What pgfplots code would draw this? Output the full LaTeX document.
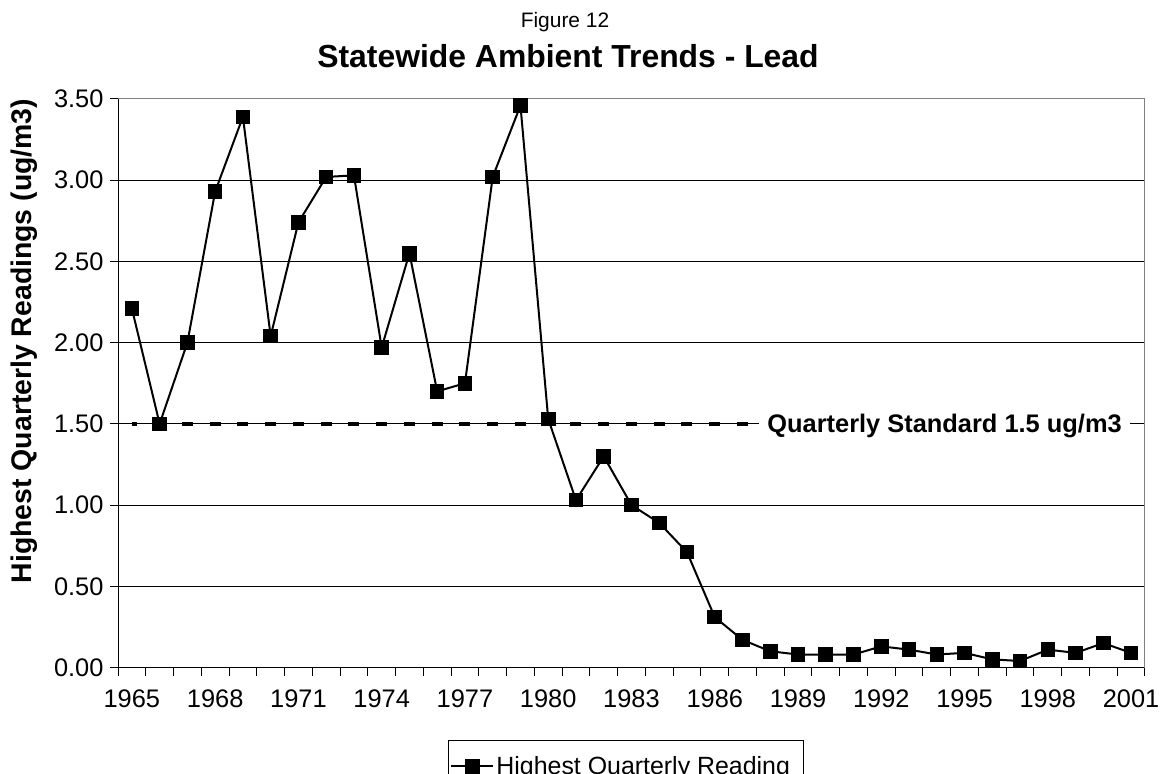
\documentclass[border=0pt]{standalone}
\usepackage{fontspec}
\setmainfont{Liberation Sans}
\usepackage{pgfplots}
\pgfplotsset{compat=1.18}
\begin{document}
\begin{tikzpicture}
\useasboundingbox (0,0) rectangle (1162bp,774bp);
\node[font=\fontsize{21}{25}\selectfont, anchor=base] at (565bp,746bp) {Figure 12};
\node[font=\bfseries\fontsize{32}{38}\selectfont, anchor=base] at (568bp,706bp) {Statewide Ambient Trends - Lead};
\node[font=\bfseries\fontsize{28.5}{33}\selectfont, rotate=90] at (24bp,433bp) {Highest Quarterly Readings (ug/m3)};
\begin{axis}[
  at={(118bp,106.5bp)}, anchor=south west,
  width=1027bp, height=568.5bp, scale only axis,
  xmin=1964.5, xmax=2001.5, ymin=0, ymax=3.5,
  axis x line*=bottom, axis y line*=left,
  axis line style={black, line width=1bp, -},
  xtick={1965,1968,...,2001},
  minor xtick={1964.5,1965.5,...,2001.5},
  ytick={0,0.5,...,3.5},
  major x tick style={draw=none},
  every tick/.style={black, line width=1bp},
  tick align=outside,
  major tick length=8bp, minor tick length=8bp,
  ymajorgrids, grid style={black, line width=1bp},
  /pgf/number format/assume math mode=true,
  ticklabel style={font=\fontsize{25.5}{30}\selectfont},
  xticklabel style={/pgf/number format/1000 sep={}, yshift=-11bp},
  yticklabel style={/pgf/number format/fixed, /pgf/number format/fixed zerofill, /pgf/number format/precision=2, xshift=-3bp},
  legend style={at={(0.3213,-0.1275)}, anchor=north west, draw=black, line width=1bp,
    font=\fontsize{25}{30}\selectfont, inner xsep=2bp, inner ysep=14bp},
  legend image code/.code={\draw[mark repeat=2, mark phase=2] plot coordinates {(0bp,0bp) (21bp,0bp) (42bp,0bp)};},
  clip=false,
]
\draw[gray, line width=1bp] (rel axis cs:0,1) -- (rel axis cs:1,1) -- (rel axis cs:1,0);
\addplot[black, line width=3.5bp, dash pattern=on 11bp off 16.75bp, dash phase=5.5bp, forget plot]
  coordinates {(1965,1.5) (1987.2,1.5)};
\addplot[black, line width=2bp, mark=square*, mark size=6.3bp, mark options={solid}] coordinates {
(1965,2.21) (1966,1.50) (1967,2.00) (1968,2.93) (1969,3.39) (1970,2.04) (1971,2.74)
(1972,3.02) (1973,3.03) (1974,1.97) (1975,2.55) (1976,1.70) (1977,1.75) (1978,3.02)
(1979,3.46) (1980,1.53) (1981,1.03) (1982,1.30) (1983,1.00) (1984,0.89) (1985,0.71)
(1986,0.31) (1987,0.17) (1988,0.10) (1989,0.08) (1990,0.08) (1991,0.08) (1992,0.13)
(1993,0.11) (1994,0.08) (1995,0.09) (1996,0.05) (1997,0.04) (1998,0.11) (1999,0.09)
(2000,0.15) (2001,0.09)};
\addlegendentry{Highest Quarterly Reading\rule{10bp}{0pt}}
\node[fill=white, inner xsep=8bp, inner ysep=4bp, anchor=base, yshift=-9bp,
  font=\bfseries\fontsize{25.5}{30}\selectfont] at (axis cs:1994.28,1.5) {Quarterly Standard 1.5 ug/m3};
\end{axis}
\end{tikzpicture}
\end{document}
